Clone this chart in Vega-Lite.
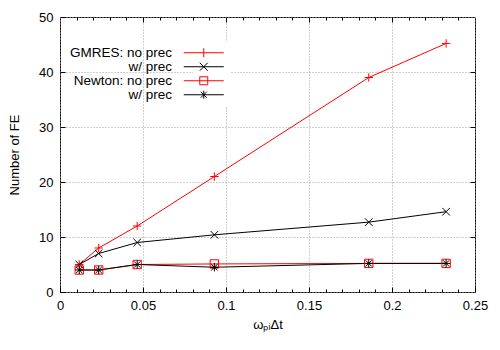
{
  "$schema": "https://vega.github.io/schema/vega-lite/v6.json",
  "width": 415,
  "height": 275,
  "autosize": "none",
  "padding": {"left": 60, "top": 17, "right": 25, "bottom": 58},
  "background": "white",
  "config": {
    "view": {"stroke": "black", "strokeWidth": 1},
    "font": "Liberation Sans",
    "axis": {
      "domain": false,
      "labelFlush": false,
      "labelFont": "Liberation Sans",
      "labelFontSize": 13,
      "labelColor": "black",
      "tickColor": "black",
      "titleFont": "Liberation Sans",
      "titleFontSize": 13,
      "titleFontWeight": "normal",
      "titleColor": "black",
      "gridColor": "#a0a0a0",
      "gridDash": [1, 2],
      "gridWidth": 1
    }
  },
  "data": {
    "values": [
      {"series": "GMRES: no prec", "x": 0.0116, "y": 5},
      {"series": "GMRES: no prec", "x": 0.0233, "y": 8},
      {"series": "GMRES: no prec", "x": 0.0465, "y": 12},
      {"series": "GMRES: no prec", "x": 0.093, "y": 21},
      {"series": "GMRES: no prec", "x": 0.186, "y": 39},
      {"series": "GMRES: no prec", "x": 0.2326, "y": 45.2},
      {"series": "GMRES: w/ prec", "x": 0.0116, "y": 5},
      {"series": "GMRES: w/ prec", "x": 0.0233, "y": 7},
      {"series": "GMRES: w/ prec", "x": 0.0465, "y": 9},
      {"series": "GMRES: w/ prec", "x": 0.093, "y": 10.4},
      {"series": "GMRES: w/ prec", "x": 0.186, "y": 12.7},
      {"series": "GMRES: w/ prec", "x": 0.2326, "y": 14.6},
      {"series": "Newton: no prec", "x": 0.0116, "y": 4},
      {"series": "Newton: no prec", "x": 0.0233, "y": 4},
      {"series": "Newton: no prec", "x": 0.0465, "y": 5},
      {"series": "Newton: no prec", "x": 0.093, "y": 5.1},
      {"series": "Newton: no prec", "x": 0.186, "y": 5.2},
      {"series": "Newton: no prec", "x": 0.2326, "y": 5.2},
      {"series": "Newton: w/ prec", "x": 0.0116, "y": 4},
      {"series": "Newton: w/ prec", "x": 0.0233, "y": 4},
      {"series": "Newton: w/ prec", "x": 0.0465, "y": 5},
      {"series": "Newton: w/ prec", "x": 0.093, "y": 4.5},
      {"series": "Newton: w/ prec", "x": 0.186, "y": 5.2},
      {"series": "Newton: w/ prec", "x": 0.2326, "y": 5.2}
    ]
  },
  "resolve": {
    "scale": {"shape": "independent", "color": "independent"},
    "axis": {"x": "independent", "y": "independent"}
  },
  "layer": [
    {
      "mark": {"type": "line", "strokeWidth": 1},
      "encoding": {
        "x": {
          "field": "x", "type": "quantitative",
          "scale": {"domain": [0, 0.25], "nice": false, "zero": false},
          "axis": {"orient": "bottom", "values": [0, 0.05, 0.1, 0.15, 0.2, 0.25], "format": "~g", "grid": true, "tickSize": -5, "labelPadding": 12, "title": "ωₚᵢΔt", "titlePadding": 6}
        },
        "y": {
          "field": "y", "type": "quantitative",
          "scale": {"domain": [0, 50], "nice": false},
          "axis": {"orient": "left", "values": [0, 10, 20, 30, 40, 50], "grid": true, "tickSize": -5, "labelPadding": 12, "title": "Number of FE", "titlePadding": 17}
        },
        "color": {
          "field": "series", "type": "nominal",
          "scale": {"domain": ["GMRES: no prec", "GMRES: w/ prec", "Newton: no prec", "Newton: w/ prec"], "range": ["#ff0000", "#000000", "#ff0000", "#000000"]},
          "legend": null
        }
      }
    },
    {
      "mark": {"type": "point", "filled": false, "size": 70, "strokeWidth": 1, "opacity": 1},
      "encoding": {
        "x": {
          "field": "x", "type": "quantitative",
          "axis": {"orient": "bottom", "values": [0.01, 0.02, 0.03, 0.04, 0.06, 0.07, 0.08, 0.09, 0.11, 0.12, 0.13, 0.14, 0.16, 0.17, 0.18, 0.19, 0.21, 0.22, 0.23, 0.24], "labels": false, "grid": false, "tickSize": -3, "title": null}
        },
        "y": {
          "field": "y", "type": "quantitative",
          "axis": {"orient": "right", "values": [10, 20, 30, 40], "labels": false, "grid": false, "tickSize": -5, "title": null}
        },
        "color": {
          "field": "series", "type": "nominal",
          "scale": {"domain": ["GMRES: no prec", "GMRES: w/ prec", "Newton: no prec", "Newton: w/ prec"], "range": ["#ff0000", "#000000", "#ff0000", "#000000"]},
          "legend": null
        },
        "shape": {
          "field": "series", "type": "nominal",
          "scale": {"domain": ["GMRES: no prec", "GMRES: w/ prec", "Newton: no prec", "Newton: w/ prec"], "range": ["M-1,0H1M0,-1V1", "M-0.9,-0.9L0.9,0.9M-0.9,0.9L0.9,-0.9", "M-1,-1H1V1H-1Z", "M-1,0H1M0,-1V1M-0.75,-0.75L0.75,0.75M-0.75,0.75L0.75,-0.75"]},
          "legend": null
        }
      }
    },
    {
      "mark": {"type": "point", "filled": false, "size": 100, "strokeWidth": 1, "opacity": 0},
      "encoding": {
        "x": {
          "field": "x", "type": "quantitative",
          "axis": {"orient": "top", "values": [0.01, 0.02, 0.03, 0.04, 0.06, 0.07, 0.08, 0.09, 0.11, 0.12, 0.13, 0.14, 0.16, 0.17, 0.18, 0.19, 0.21, 0.22, 0.23, 0.24], "labels": false, "grid": false, "tickSize": -3, "title": null}
        },
        "y": {"field": "y", "type": "quantitative", "axis": null},
        "color": {
          "field": "series", "type": "nominal",
          "scale": {"domain": ["GMRES: no prec", "GMRES: w/ prec", "Newton: no prec", "Newton: w/ prec"], "range": ["#ff0000", "#000000", "#ff0000", "#000000"]},
          "legend": {
            "orient": "none", "legendX": 133, "legendY": 25, "title": null,
            "fillColor": "white", "padding": 4, "symbolOpacity": 1, "symbolStrokeWidth": 1, "symbolSize": 100,
            "labelFont": "Liberation Sans", "labelFontSize": 13.5, "labelColor": "black", "rowPadding": -1,
            "labelExpr": "indexof(datum.label, 'w/') >= 0 ? 'w/ prec' : datum.label",
            "encoding": {"labels": {"x": {"value": -25}, "align": {"value": "right"}}}
          }
        },
        "shape": {
          "field": "series", "type": "nominal",
          "scale": {"domain": ["GMRES: no prec", "GMRES: w/ prec", "Newton: no prec", "Newton: w/ prec"], "range": ["M-4,0H4M0,-0.9V0.9", "M-4,0H4M-0.8,-0.8L0.8,0.8M-0.8,0.8L0.8,-0.8", "M-4,0H4M-0.8,-0.8H0.8V0.8H-0.8Z", "M-4,0H4M0,-0.8V0.8M-0.6,-0.6L0.6,0.6M-0.6,0.6L0.6,-0.6"]},
          "legend": {
            "orient": "none", "legendX": 133, "legendY": 25, "title": null,
            "fillColor": "white", "padding": 4, "symbolOpacity": 1, "symbolStrokeWidth": 1, "symbolSize": 100,
            "labelFont": "Liberation Sans", "labelFontSize": 13.5, "labelColor": "black", "rowPadding": -1,
            "labelExpr": "indexof(datum.label, 'w/') >= 0 ? 'w/ prec' : datum.label",
            "encoding": {"labels": {"x": {"value": -25}, "align": {"value": "right"}}}
          }
        }
      }
    },
    {
      "mark": {"type": "point", "opacity": 0},
      "encoding": {
        "x": {
          "field": "x", "type": "quantitative",
          "axis": {"orient": "top", "values": [0.05, 0.1, 0.15, 0.2], "labels": false, "grid": false, "tickSize": -5, "title": null}
        },
        "y": {"field": "y", "type": "quantitative", "axis": null}
      }
    }
  ]
}
